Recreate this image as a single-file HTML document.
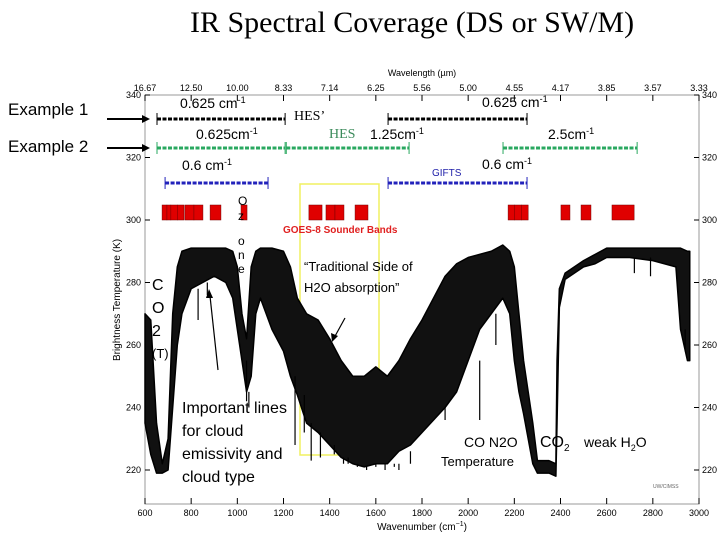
<!DOCTYPE html>
<html><head><meta charset="utf-8"><style>
body{margin:0;background:#fff}
svg text{font-family:"Liberation Sans",sans-serif}
.serif{font-family:"Liberation Serif",serif}
</style></head><body>
<svg id="c" width="720" height="540" xmlns="http://www.w3.org/2000/svg">
<text x="190" y="32" class="serif" font-size="30">IR Spectral Coverage (DS or SW/M)</text>
<rect x="145" y="95" width="554" height="409" fill="none" stroke="#999" stroke-width="1"/>
<g id="ticks"></g>
<text x="422" y="76" font-size="9" text-anchor="middle">Wavelength (µm)</text>
<text x="422" y="530" font-size="10" text-anchor="middle">Wavenumber (cm<tspan dy="-4" font-size="7">−1</tspan><tspan dy="4">)</tspan></text>
<text transform="translate(120,300) rotate(-90)" font-size="10" text-anchor="middle">Brightness Temperature (K)</text>
<rect x="300" y="184" width="79" height="271" fill="none" stroke="#f0f060" stroke-width="1.5"/>
<g id="spec"></g>
<g id="bars"></g>
<text x="8" y="115" font-size="17">Example 1</text>
<text x="8" y="152" font-size="17">Example 2</text>
<line x1="107" y1="119" x2="148" y2="119" stroke="#000" stroke-width="2"/>
<polygon points="150,119 142,115 142,123" fill="#000"/>
<line x1="107" y1="148" x2="148" y2="148" stroke="#000" stroke-width="2"/>
<polygon points="150,148 142,144 142,152" fill="#000"/>
<text x="180" y="108" font-size="14">0.625 cm<tspan dy="-5" font-size="9">-1</tspan></text>
<text x="482" y="107" font-size="14">0.625 cm<tspan dy="-5" font-size="9">-1</tspan></text>
<text x="294" y="120" class="serif" font-size="14">HES’</text>
<text x="196" y="139" font-size="14">0.625cm<tspan dy="-5" font-size="9">-1</tspan></text>
<text x="329" y="138" class="serif" font-size="14" fill="#3a8a5a">HES</text>
<text x="370" y="139" font-size="14">1.25cm<tspan dy="-5" font-size="9">-1</tspan></text>
<text x="548" y="139" font-size="14">2.5cm<tspan dy="-5" font-size="9">-1</tspan></text>
<text x="182" y="170" font-size="14">0.6 cm<tspan dy="-5" font-size="9">-1</tspan></text>
<text x="482" y="169" font-size="14">0.6 cm<tspan dy="-5" font-size="9">-1</tspan></text>
<text x="432" y="176" font-size="10" fill="#2222aa">GIFTS</text>
<text x="283" y="233" font-size="10" font-weight="bold" fill="#e02020">GOES-8 Sounder Bands</text>
<g font-size="12"><text x="238" y="205">O</text><text x="238" y="220">z</text><text x="238" y="245">o</text><text x="238" y="259">n</text><text x="238" y="273">e</text></g>
<g font-size="16"><text x="152" y="290">C</text><text x="152" y="313">O</text><text x="152" y="336">2</text><text x="152" y="358" font-size="13">(T)</text></g>
<text x="304" y="271" font-size="13">“Traditional Side of</text>
<text x="304" y="292" font-size="13">H2O absorption”</text>
<line x1="345" y1="318" x2="334" y2="338" stroke="#000" stroke-width="1.2"/><polygon points="332,342 331,333 338,336" fill="#000"/>
<line x1="218" y1="370" x2="210" y2="296" stroke="#000" stroke-width="1.2"/><polygon points="209,289 206,298 213,298" fill="#000"/>
<g font-size="16"><text x="182" y="413">Important lines</text><text x="182" y="436">for cloud</text><text x="182" y="459">emissivity and</text><text x="182" y="482">cloud type</text></g>
<text x="464" y="447" font-size="14">CO N2O</text>
<text x="441" y="466" font-size="13">Temperature</text>
<text x="540" y="447" font-size="16">CO<tspan dy="4" font-size="10">2</tspan></text>
<text x="584" y="447" font-size="14">weak H<tspan dy="4" font-size="9">2</tspan><tspan dy="-4">O</tspan></text>
<text x="653" y="488" font-size="5" fill="#666">UW/CIMSS</text>
</svg>
<script>
const wn=[600,625,650,675,700,720,740,760,800,850,900,950,980,1000,1020,1040,1060,1080,1100,1150,1200,1230,1260,1300,1350,1400,1450,1500,1550,1600,1650,1700,1750,1800,1850,1900,1950,2000,2050,2100,2150,2180,2200,2220,2240,2260,2280,2300,2350,2380,2385,2395,2420,2500,2550,2600,2700,2800,2900,2920,2950,2960];
const upperT=[270,268,235,222,230,270,285,290,291,291,291,291,290,285,270,262,285,290,291,291,290,285,275,270,268,262,255,250,250,253,250,255,262,268,275,282,286,288,289,290,292,290,285,270,255,245,235,223,223,222,255,278,283,287,289,291,291,291,291,291,290,290];
const lowerT=[235,225,219,219,220,240,260,270,278,280,282,280,275,265,255,245,250,270,275,265,258,250,244,235,232,228,224,222,221,222,222,226,228,232,236,240,245,255,265,270,275,270,255,245,238,230,222,219,219,218,235,272,281,285,286,288,288,287,285,265,255,255];
const spikeWn=[610,830,870,1040,1050,1250,1290,1320,1360,1420,1460,1480,1520,1560,1600,1640,1680,1700,1750,1800,1850,1900,2050,2120,2720,2790,2940,2955];
const spikeT=[235,268,276,242,240,228,232,223,224,225,222,222,221,220,222,220,221,220,222,228,232,240,236,260,283,282,258,255];
const tickWn=[600,800,1000,1200,1400,1600,1800,2000,2200,2400,2600,2800,3000];
const tickLabels=["600","800","1000","1200","1400","1600","1800","2000","2200","2400","2600","2800","3000"];
const wlLabels=["16.67","12.50","10.00","8.33","7.14","6.25","5.56","5.00","4.55","4.17","3.85","3.57","3.33"];
const yTicks=[220,240,260,280,300,320,340];
const hesPrime=[[652,1207],[1653,2255]];
const hesBands=[[652,1207],[1212,1744],[2151,2732]];
const giftsBands=[[687,1133],[1653,2255]];
const goesBands=[[674,695],[695,712],[712,740],[740,769],[773,812],[812,851],[882,929],[1016,1042],[1310,1367],[1384,1423],[1423,1462],[1510,1566],[2173,2200],[2200,2230],[2230,2260],[2402,2441],[2489,2532],[2623,2719]];
const X=w=>145+(w-600)*554/2400, Y=t=>95+(340-t)*62.5/20;
const NS="http://www.w3.org/2000/svg";
function mk(tag,at,parent){const e=document.createElementNS(NS,tag);for(const k in at)e.setAttribute(k,at[k]);document.getElementById(parent).appendChild(e);return e;}
tickWn.forEach((w,i)=>{
 let l=mk('line',{x1:X(w),x2:X(w),y1:504,y2:498,stroke:'#000'},'ticks');
 
 
 mk('line',{x1:X(w),x2:X(w),y1:95,y2:101,stroke:'#000'},'ticks');
 let t=mk('text',{x:X(w),y:516,'font-size':9,'text-anchor':'middle'},'ticks');t.textContent=tickLabels[i];
 
 
 let t2=mk('text',{x:X(w),y:91,'font-size':9,'text-anchor':'middle'},'ticks');t2.textContent=wlLabels[i];
 
 
});
yTicks.forEach(v=>{
 mk('line',{x1:145,x2:150,y1:Y(v),y2:Y(v),stroke:'#000'},'ticks');
 mk('line',{x1:694,x2:699,y1:Y(v),y2:Y(v),stroke:'#000'},'ticks');
 let a=mk('text',{x:141,y:Y(v)+3,'font-size':9,'text-anchor':'end'},'ticks');a.textContent=v;
 
 
 let b=mk('text',{x:702,y:Y(v)+3,'font-size':9},'ticks');b.textContent=v;
 
 
});
let d='M'+wn.map((w,i)=>X(w)+','+Y(upperT[i])).join('L');
for(let i=wn.length-1;i>=0;i--)d+='L'+X(wn[i])+','+Y(lowerT[i]);
const sp=mk('path',{d:d+'Z',fill:'#111',stroke:'#000','stroke-width':1.5,'stroke-linejoin':'round'},'spec');


spikeWn.forEach((w,i)=>{
 let k=0;while(k<wn.length-1&&wn[k+1]<w)k++;
 const s=mk('line',{x1:X(w),x2:X(w),y1:Y(lowerT[k]),y2:Y(spikeT[i]),stroke:'#000','stroke-width':1.2},'spec');
 
 
});
function band(list,y,col,name){list.forEach(b=>{
 const l=mk('line',{x1:X(b[0]),x2:X(b[1]),y1:y,y2:y,stroke:col,'stroke-width':3,'stroke-dasharray':'4,1.5'},'bars');
 
 
 [b[0],b[1]].forEach(w=>mk('line',{x1:X(w),x2:X(w),y1:y-6,y2:y+6,stroke:col,'stroke-width':1},'bars'));
});}
band(hesPrime,119,'#000','hes-prime-band');
band(hesBands,148,'#2aa860','hes-band');
band(giftsBands,183,'#2222bb','gifts-band');
goesBands.forEach(b=>{
 const r=mk('rect',{x:X(b[0]),y:205,width:X(b[1])-X(b[0]),height:15,fill:'#e00000',stroke:'#700','stroke-width':0.5},'bars');
 
 
});
</script>
</body></html>
